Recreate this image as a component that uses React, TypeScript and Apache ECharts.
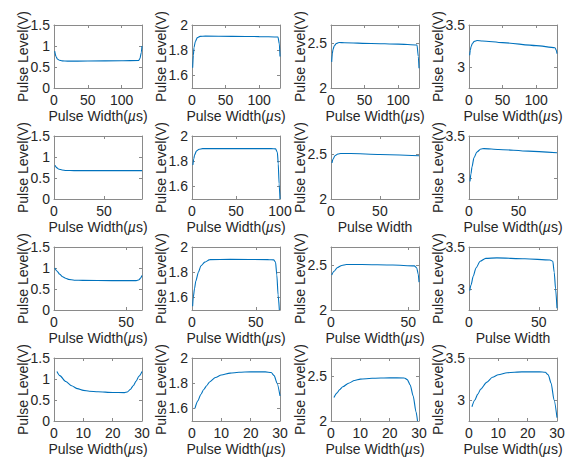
import React, { useEffect, useRef } from "react";
import * as echarts from "echarts";

// ---- data (x in µs, y in V) ----
const r1c1X = [1, 3, 5, 8, 12, 20, 50, 100, 125, 127, 129, 130];
const r1c1Y = [0.88, 0.75, 0.69, 0.66, 0.645, 0.64, 0.642, 0.648, 0.655, 0.7, 0.85, 1.0];
const r1c2X = [1, 2, 3, 5, 8, 12, 20, 60, 100, 128, 130, 131];
const r1c2Y = [1.66, 1.76, 1.82, 1.87, 1.9, 1.91, 1.912, 1.91, 1.908, 1.905, 1.85, 1.75];
const r1c3X = [1, 2, 3, 5, 8, 12, 20, 60, 100, 128, 130, 131];
const r1c3Y = [2.29, 2.38, 2.43, 2.47, 2.495, 2.505, 2.503, 2.495, 2.487, 2.478, 2.35, 2.22];
const r1c4X = [1, 2, 3, 5, 8, 12, 20, 50, 100, 128, 130, 131];
const r1c4Y = [3.14, 3.2, 3.24, 3.28, 3.305, 3.315, 3.31, 3.29, 3.255, 3.23, 3.2, 3.16];

const r2c1X = [1, 3, 5, 8, 12, 20, 50, 88];
const r2c1Y = [0.8, 0.74, 0.71, 0.69, 0.68, 0.675, 0.675, 0.675];
const r2c2X = [1, 2, 3, 5, 8, 12, 30, 90, 95, 97, 98, 99, 100];
const r2c2Y = [1.77, 1.82, 1.85, 1.88, 1.895, 1.9, 1.9, 1.9, 1.898, 1.87, 1.78, 1.62, 1.5];
const r2c3X = [1, 2, 4, 7, 10, 20, 50, 90];
const r2c3Y = [2.4, 2.44, 2.48, 2.5, 2.505, 2.505, 2.495, 2.48];
const r2c4X = [1, 2, 3, 5, 8, 12, 15, 30, 60, 89];
const r2c4Y = [2.96, 3.05, 3.13, 3.24, 3.31, 3.345, 3.35, 3.34, 3.32, 3.3];

const r3c1X = [0.5, 2, 4, 6, 8, 10, 14, 20, 40, 57, 59, 60, 61];
const r3c1Y = [1.0, 0.93, 0.85, 0.79, 0.755, 0.73, 0.71, 0.705, 0.7, 0.7, 0.72, 0.76, 0.82];
const r3c2X = [0.5, 1, 2, 3, 5, 7, 10, 14, 30, 60, 64, 65.5, 66.5, 67.5, 68.5];
const r3c2Y = [1.53, 1.6, 1.67, 1.73, 1.8, 1.85, 1.88, 1.9, 1.902, 1.9, 1.898, 1.88, 1.78, 1.62, 1.5];
const r3c3X = [0.5, 2, 4, 7, 10, 20, 40, 54, 55.5, 56.5, 57];
const r3c3Y = [2.39, 2.43, 2.47, 2.495, 2.505, 2.505, 2.5, 2.49, 2.47, 2.4, 2.31];
const r3c4X = [0.5, 1.5, 3, 5, 8, 12, 20, 40, 58, 60, 61, 62, 63];
const r3c4Y = [2.98, 3.05, 3.15, 3.25, 3.33, 3.365, 3.37, 3.36, 3.345, 3.33, 3.2, 3.0, 2.77];

const r4c1X = [1, 2, 4, 6, 8, 10, 12, 15, 20, 24, 25, 26, 27, 28, 29, 30];
const r4c1Y = [1.18, 1.08, 0.94, 0.84, 0.77, 0.73, 0.71, 0.695, 0.68, 0.675, 0.69, 0.75, 0.84, 0.95, 1.07, 1.18];
const r4c2X = [1, 2, 3, 4, 5, 6, 8, 10, 13, 16, 20, 25, 27, 28, 29, 30];
const r4c2Y = [1.6, 1.66, 1.71, 1.75, 1.78, 1.81, 1.845, 1.865, 1.88, 1.887, 1.89, 1.89, 1.885, 1.86, 1.8, 1.7];
const r4c3X = [1, 2, 3, 4, 6, 8, 10, 14, 20, 25, 26, 27, 28, 29, 29.5];
const r4c3Y = [2.26, 2.31, 2.35, 2.38, 2.42, 2.45, 2.465, 2.475, 2.48, 2.478, 2.46, 2.4, 2.28, 2.1, 2.0];
const r4c4X = [1, 2, 3, 4, 6, 8, 10, 13, 18, 24, 26, 27, 28, 29, 30];
const r4c4Y = [2.92, 3.0, 3.07, 3.13, 3.21, 3.27, 3.3, 3.325, 3.335, 3.335, 3.33, 3.3, 3.2, 3.0, 2.79];

const panelX = [
  [r1c1X, r1c2X, r1c3X, r1c4X],
  [r2c1X, r2c2X, r2c3X, r2c4X],
  [r3c1X, r3c2X, r3c3X, r3c4X],
  [r4c1X, r4c2X, r4c3X, r4c4X],
];
const panelY = [
  [r1c1Y, r1c2Y, r1c3Y, r1c4Y],
  [r2c1Y, r2c2Y, r2c3Y, r2c4Y],
  [r3c1Y, r3c2Y, r3c3Y, r3c4Y],
  [r4c1Y, r4c2Y, r4c3Y, r4c4Y],
];

// axis ranges / ticks
const xMaxByRow = [
  [130, 131, 131, 131],
  [88, 100, 90, 89],
  [61, 69, 57, 63],
  [30, 30, 30, 30],
];
const xTicksByRow = [
  [0, 50, 100],
  [0, 50, 100],
  [0, 50, 100],
  [0, 10, 20, 30],
];
const yMinByCol = [0, 1.5, 2, 2.75];
const yMaxByCol = [1.5, 2, 2.7, 3.5];
const yTicksByCol = [
  [0, 0.5, 1, 1.5],
  [1.6, 1.8, 2],
  [2, 2.5],
  [3, 3.5],
];
const xNames = [
  ["us", "us", "us", "us"],
  ["us", "us", "plain", "us"],
  ["us", "us", "us", "plain"],
  ["us", "us", "us", "us"],
];
const yName = "Pulse Level(V)";

// layout
const colLeft = [54, 192, 331, 469];
const rowTop = [25, 136, 247, 358];
const plotW = 88;
const plotH = 63;

const FONT = "'Liberation Sans', Arial, Helvetica, sans-serif";
const TEXT = "#262626";
const AXIS = "#8a8a8a";
const LINE = "#0072BD";

export default function App() {
  const ref = useRef<HTMLDivElement>(null);
  useEffect(() => {
    if (!ref.current) return;
    const chart = echarts.init(ref.current, null, { renderer: "svg" });
    const grids: any[] = [];
    const xAxes: any[] = [];
    const yAxes: any[] = [];
    const series: any[] = [];
    const xTop: any[] = [];
    const yRight: any[] = [];
    const nameFont = { color: TEXT, fontSize: 14, fontFamily: FONT, lineHeight: 14 };
    const tickFont = { color: TEXT, fontSize: 14, fontFamily: FONT, lineHeight: 14 };
    for (let r = 0; r < 4; r++) {
      for (let c = 0; c < 4; c++) {
        const i = r * 4 + c;
        grids.push({ left: colLeft[c], top: rowTop[r], width: plotW, height: plotH, containLabel: false });
        const xmax = xMaxByRow[r][c];
        const xt = xTicksByRow[r].filter((v) => v <= xmax + 0.001);
        const yt = yTicksByCol[c];
        const common = {
          splitLine: { show: false },
          axisLine: { show: true, onZero: false, lineStyle: { color: AXIS, width: 1 } },
        };
        xAxes.push({
          ...common,
          type: "value",
          gridIndex: i,
          position: "bottom",
          min: 0,
          max: xmax,
          axisTick: { show: true, inside: true, length: 3, customValues: xt, lineStyle: { color: AXIS } },
          axisLabel: { show: true, customValues: xt, margin: 5, ...tickFont },
          name: xNames[r][c] === "us" ? "{n|Pulse Width(}{i|µ}{n|s)}" : "{n|Pulse Width}",
          nameLocation: "middle",
          nameGap: 21,
          nameMoveOverlap: false,
          nameTextStyle: {
            ...nameFont,
            rich: {
              n: { ...nameFont },
              i: { ...nameFont, fontStyle: "italic" },
            },
          },
        });
        xTop.push({
          ...common,
          type: "value",
          gridIndex: i,
          position: "top",
          min: 0,
          max: xmax,
          axisTick: { show: true, inside: true, length: 3, customValues: xt, lineStyle: { color: AXIS } },
          axisLabel: { show: false },
        });
        yAxes.push({
          ...common,
          type: "value",
          gridIndex: i,
          position: "left",
          min: yMinByCol[c],
          max: yMaxByCol[c],
          axisTick: { show: true, inside: true, length: 3, customValues: yt, lineStyle: { color: AXIS } },
          axisLabel: { show: true, customValues: yt, margin: 4, ...tickFont },
          name: yName,
          nameLocation: "middle",
          nameGap: 24,
          nameMoveOverlap: false,
          nameTextStyle: { ...nameFont },
        });
        yRight.push({
          ...common,
          type: "value",
          gridIndex: i,
          position: "right",
          min: yMinByCol[c],
          max: yMaxByCol[c],
          axisTick: { show: true, inside: true, length: 3, customValues: yt, lineStyle: { color: AXIS } },
          axisLabel: { show: false },
        });
        const xs = panelX[r][c];
        const ys = panelY[r][c];
        series.push({
          type: "line",
          xAxisIndex: i,
          yAxisIndex: i,
          data: xs.map((x, k) => [x, ys[k]]),
          showSymbol: false,
          smooth: 0.25,
          smoothMonotone: "x",
          lineStyle: { color: LINE, width: 1.1 },
          clip: true,
        });
      }
    }
    chart.setOption({
      animation: false,
      backgroundColor: "#ffffff",
      grid: grids,
      xAxis: [...xAxes, ...xTop],
      yAxis: [...yAxes, ...yRight],
      series,
    });
    return () => chart.dispose();
  }, []);
  return (
    <div
      ref={ref}
      style={{ position: "absolute", left: 0, top: 0, width: 572, height: 457 }}
    />
  );
}
